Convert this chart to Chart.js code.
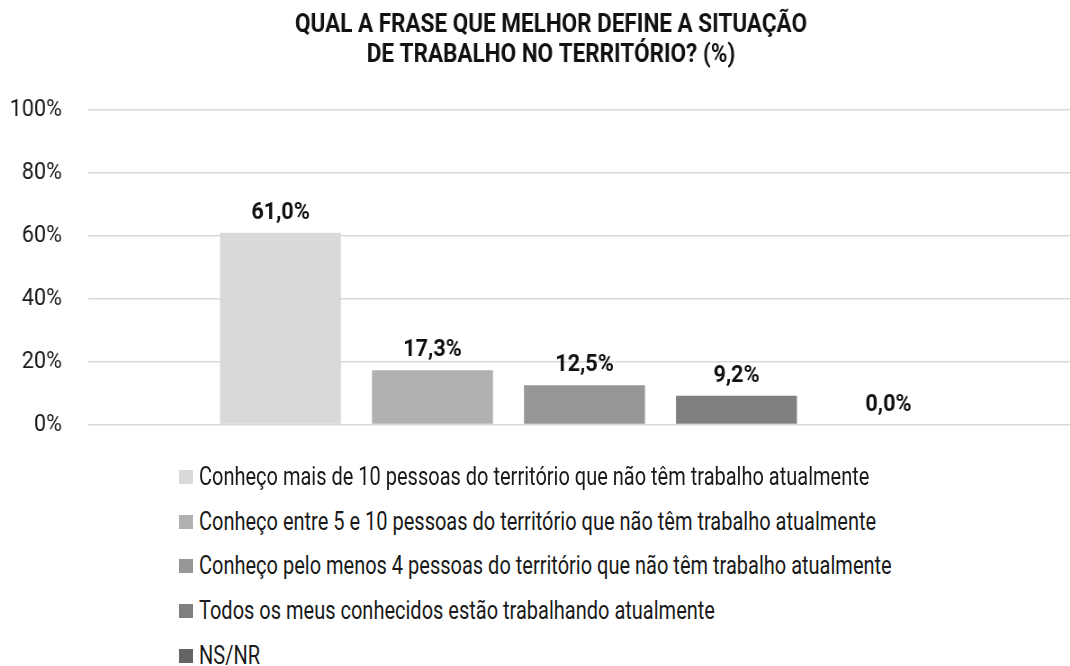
<!DOCTYPE html>
<html>
<head>
<meta charset="utf-8">
<script src="https://cdn.jsdelivr.net/npm/chart.js@4"></script>
<style>
  html, body { margin: 0; padding: 0; background: #fff; overflow: hidden; }
  #wrap { position: relative; width: 1070px; height: 666px; overflow: hidden; }
  #c { position: absolute; left: 0; top: 0; transform: scaleX(0.9); transform-origin: 0 0; }
  #legend { position: absolute; left: 179px; top: 462px; font-family: 'Roboto', sans-serif; font-size: 25px; color: #1a1a1a; }
  .li { position: relative; height: 44.7px; white-space: nowrap; }
  .sw { position: absolute; left: 0; top: 8px; width: 14px; height: 14px; }
  .tx { position: absolute; left: 20px; top: 0; line-height: 30px; transform: scaleX(0.8); transform-origin: 0 0; }
</style>
</head>
<body>
<div id="wrap">
  <canvas id="c" width="1202" height="468"></canvas>
  <div id="legend"></div>
</div>
<script>
const categories = [''];
const seriesLabels = [
  'Conheço mais de 10 pessoas do território que não têm trabalho atualmente',
  'Conheço entre 5 e 10 pessoas do território que não têm trabalho atualmente',
  'Conheço pelo menos 4 pessoas do território que não têm trabalho atualmente',
  'Todos os meus conhecidos estão trabalhando atualmente',
  'NS/NR'
];
const seriesValues = [61.0, 17.3, 12.5, 9.2, 0.0];
const seriesColors = ['#d9d9d9', '#b1b1b1', '#979797', '#808080', '#646464'];
const yTicks = [0, 20, 40, 60, 80, 100];
const titleLines = ['QUAL A FRASE QUE MELHOR DEFINE A SITUAÇÃO', 'DE TRABALHO NO TERRITÓRIO? (%)'];

const FONT = "'Roboto', sans-serif";

const valueLabels = {
  id: 'valueLabels',
  afterDatasetsDraw(chart) {
    const ctx = chart.ctx;
    ctx.save();
    ctx.font = 'bold 24px ' + FONT;
    ctx.fillStyle = '#111';
    ctx.textAlign = 'center';
    ctx.textBaseline = 'middle';
    chart.data.datasets.forEach((ds, i) => {
      const meta = chart.getDatasetMeta(i);
      meta.data.forEach((el, j) => {
        const v = ds.data[j];
        ctx.fillText(v.toFixed(1).replace('.', ',') + '%', el.x, el.y - 20);
      });
    });
    ctx.restore();
  }
};

// shift the title block slightly right, as in the reference
const titleShift = {
  id: 'titleShift',
  afterLayout(chart) {
    const t = chart.titleBlock;
    if (t) { t.left += 11.7; t.right += 11.7; }
  }
};

const datasets = seriesLabels.map((lab, i) => ({
  label: lab,
  data: [seriesValues[i]],
  backgroundColor: seriesColors[i],
  borderWidth: 0,
  categoryPercentage: 0.7654,
  barPercentage: 0.796
}));

const chart = new Chart(document.getElementById('c'), {
  type: 'bar',
  data: { labels: categories, datasets },
  options: {
    responsive: false,
    animation: false,
    devicePixelRatio: 1,
    layout: { padding: { left: 0, right: 1, top: 0, bottom: 16 } },
    plugins: {
      legend: { display: false },
      tooltip: { enabled: false },
      title: {
        display: true,
        text: titleLines,
        color: '#111',
        font: { family: FONT, size: 25, weight: 'bold', lineHeight: 1.2 },
        padding: { top: 11, bottom: 39 }
      }
    },
    scales: {
      x: {
        ticks: { display: false },
        grid: { display: false },
        border: { display: false }
      },
      y: {
        min: 0, max: 100,
        afterBuildTicks(scale) { scale.ticks = yTicks.map(v => ({ value: v })); },
        afterFit(scale) { scale.width = 97.8; },
        ticks: {
          padding: 29,
          color: '#1a1a1a',
          font: { family: FONT, size: 24 },
          callback: v => v + '%'
        },
        grid: { color: '#d9d9d9', lineWidth: 1.5, drawTicks: false },
        border: { display: false }
      }
    }
  },
  plugins: [valueLabels, titleShift]
});

const legend = document.getElementById('legend');
chart.data.datasets.forEach(ds => {
  const row = document.createElement('div');
  row.className = 'li';
  const sw = document.createElement('span');
  sw.className = 'sw';
  sw.style.background = ds.backgroundColor;
  const tx = document.createElement('span');
  tx.className = 'tx';
  tx.textContent = ds.label;
  row.appendChild(sw);
  row.appendChild(tx);
  legend.appendChild(row);
});
</script>
</body>
</html>
